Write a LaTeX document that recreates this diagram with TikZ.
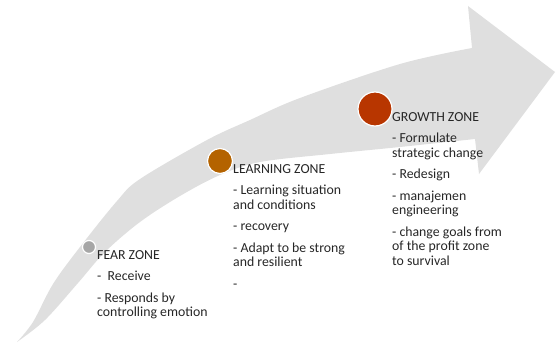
\documentclass[tikz,border=0pt]{standalone}
\usepackage{fontspec}
\setmainfont{Carlito}
\begin{document}
\begin{tikzpicture}[x=1pt,y=-1pt,
  zonetext/.style={anchor=north west,align=left,inner sep=0pt,text=black!85,
    font=\fontsize{13.8}{14.5}\selectfont},
  zonedot/.style={circle,draw=white,line width=1.2pt,inner sep=0pt}]
\definecolor{arrowgray}{RGB}{223,223,223}
\definecolor{feardot}{RGB}{166,166,166}
\definecolor{learndot}{RGB}{180,99,0}
\definecolor{growdot}{RGB}{184,54,0}
\useasboundingbox (0,0) rectangle (556,345);
% curved growth arrow, tapering to a point at its tail
\fill[arrowgray]
  plot[smooth,tension=0.55] coordinates {(17,342) (33,322) (53,284) (80,247)
    (117,201) (140,179) (207,140) (250,120) (300,98) (400,64) (472,48)}
  -- (468,6) -- (555,72) -- (479,174) -- (475,139)
  -- plot[smooth,tension=0.55] coordinates {(475,139) (400,147) (330,154)
    (260,162) (220,175) (180,196) (140,222) (105,252) (78,283) (45,320) (17,342)}
  -- cycle;
% zone markers
\node[zonedot,fill=feardot,minimum size=13pt] (fear) at (89,247) {};
\node[zonedot,fill=learndot,minimum size=25pt] (learn) at (220,161) {};
\node[zonedot,fill=growdot,minimum size=34pt] (grow) at (375,109) {};
% zone descriptions (top edge = first baseline minus cap height)
\node[zonetext] (feartxt) at (97,250.3) {FEAR ZONE\\[7pt]-\ \ Receive\\[7pt]- Responds by\\controlling emotion};
\node[zonetext] (learntxt) at (233,164.3) {LEARNING ZONE\\[7pt]- Learning situation\\and conditions\\[7pt]- recovery\\[7pt]- Adapt to be strong\\and resilient\\[7pt]-};
\node[zonetext] (growtxt) at (392,112.3) {GROWTH ZONE\\[7pt]- Formulate\\strategic change\\[7pt]- Redesign\\[7pt]- manajemen\\engineering\\[7pt]- change goals from\\of the profit zone\\to survival};
\end{tikzpicture}
\end{document}
